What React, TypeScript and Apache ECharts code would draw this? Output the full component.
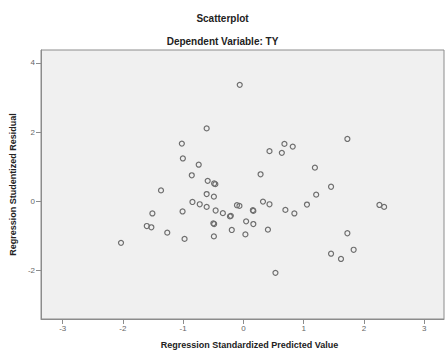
import React, { useEffect, useRef } from "react";
import * as echarts from "echarts";

const xValues = [
  -0.061, -0.61, -1.022, -1.005, -0.742, -0.857, 1.726, 0.681, 0.819, 0.433,
  0.638, 1.187, 0.285, -0.593, -0.466, -0.486, -1.368, -0.61, -0.49, -0.846,
  -0.725, -0.61, -0.107, -0.066, 0.325, 0.433, -1.511, -1.01, -0.461, -0.341,
  -0.209, -0.223, 0.165, 0.157, 0.045, 0.165, -1.604, -1.528, -0.499, -0.486,
  -1.264, -0.193, 0.033, 0.407, -0.977, -0.49, -2.032, 1.455, 1.208, 1.055,
  0.697, 0.846, 2.258, 2.336, 1.726, 1.83, 1.455, 1.62, 0.532,
];
const yValues = [
  3.363, 2.106, 1.666, 1.237, 1.057, 0.751, 1.8, 1.657, 1.58, 1.449,
  1.4, 0.971, 0.78, 0.591, 0.494, 0.514, 0.314, 0.209, 0.134, -0.02,
  -0.086, -0.163, -0.114, -0.134, -0.009, -0.086, -0.351, -0.294, -0.266, -0.343,
  -0.42, -0.437, -0.277, -0.257, -0.58, -0.657, -0.714, -0.751, -0.637, -0.657,
  -0.906, -0.829, -0.957, -0.82, -1.086, -1.014, -1.2, 0.42, 0.191, -0.094,
  -0.249, -0.351, -0.106, -0.163, -0.923, -1.4, -1.514, -1.666, -2.066,
];
const xTicks = [-3, -2, -1, 0, 1, 2, 3];
const yTicks = [-2, 0, 2, 4];

const FONT = "'Liberation Sans', Arial, sans-serif";

export default function App() {
  const ref = useRef<HTMLDivElement>(null);
  useEffect(() => {
    if (!ref.current) return;
    const chart = echarts.init(ref.current, undefined, { renderer: "svg" });
    const data = xValues.map((x, i) => [x, yValues[i]]);
    chart.setOption({
      animation: false,
      backgroundColor: "#ffffff",
      title: [
        {
          text: "Scatterplot",
          left: "center",
          top: 13,
          padding: 0,
          textStyle: { fontFamily: FONT, fontSize: 10, fontWeight: "bold", color: "#222" },
        },
        {
          text: "Dependent Variable: TY",
          left: "center",
          top: 36,
          padding: 0,
          textStyle: { fontFamily: FONT, fontSize: 10, fontWeight: "bold", color: "#222" },
        },
      ],
      grid: {
        left: 38,
        right: 1,
        top: 50,
        bottom: 32,
        show: true,
        backgroundColor: "#f0f0f0",
        borderColor: "#8c8c8c",
        borderWidth: 1,
      },
      xAxis: {
        type: "value",
        min: -3.36,
        max: 3.33,
        name: "Regression Standardized Predicted Value",
        nameLocation: "middle",
        nameGap: 21,
        nameTextStyle: {
          fontFamily: FONT,
          fontSize: 9,
          fontWeight: "bold",
          color: "#222",
          padding: [0, 0, 0, 14],
        },
        axisLine: { show: true, onZero: false, lineStyle: { color: "#8c8c8c", width: 1 } },
        axisTick: {
          show: true,
          length: 5,
          inside: false,
          customValues: xTicks,
          lineStyle: { color: "#8c8c8c" },
        },
        axisLabel: {
          customValues: xTicks,
          margin: 5,
          fontFamily: FONT,
          fontSize: 8,
          color: "#666",
        },
        splitLine: { show: false },
      },
      yAxis: {
        type: "value",
        min: -3.4,
        max: 4.37,
        name: "Regression Studentized Residual",
        nameLocation: "middle",
        nameGap: 21,
        nameTextStyle: {
          fontFamily: FONT,
          fontSize: 9,
          fontWeight: "bold",
          color: "#222",
        },
        axisLine: { show: true, onZero: false, lineStyle: { color: "#8c8c8c", width: 1 } },
        axisTick: {
          show: true,
          length: 5,
          inside: false,
          customValues: yTicks,
          lineStyle: { color: "#8c8c8c" },
        },
        axisLabel: {
          customValues: yTicks,
          margin: 6,
          fontFamily: FONT,
          fontSize: 8,
          color: "#666",
        },
        splitLine: { show: false },
      },
      series: [
        {
          type: "scatter",
          data,
          symbol: "circle",
          symbolSize: 5,
          itemStyle: {
            color: "rgba(0,0,0,0)",
            borderColor: "#6e6e6e",
            borderWidth: 1.2,
            opacity: 1,
          },
        },
      ],
    });
    return () => chart.dispose();
  }, []);
  return <div ref={ref} style={{ width: 445, height: 354, position: "absolute", left: 0, top: 0 }} />;
}
